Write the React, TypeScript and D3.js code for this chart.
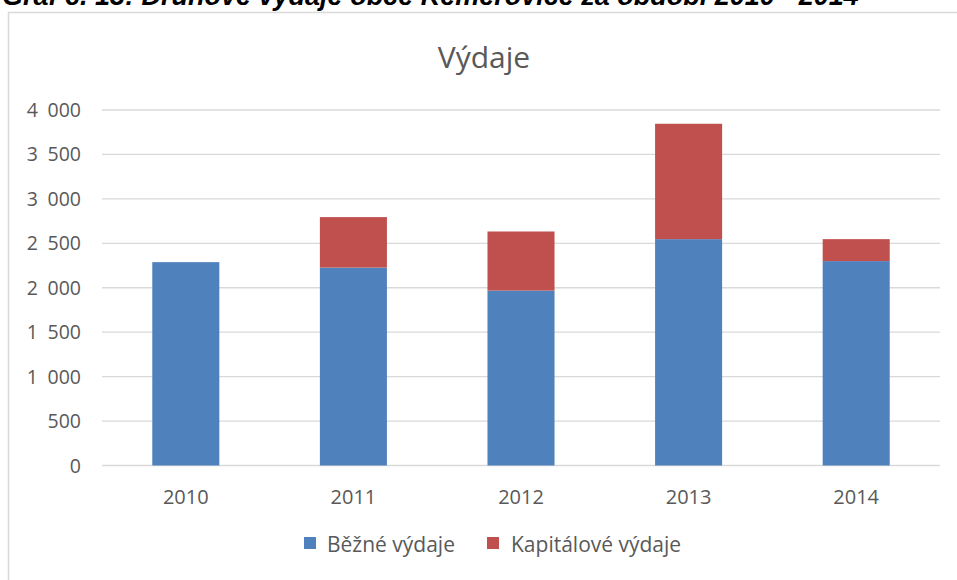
import React from "react";
import * as d3 from "d3";

const years = ["2010", "2011", "2012", "2013", "2014"];
const bezne = [2288, 2227, 1968, 2547, 2300];
const kapitalove = [0, 568, 665, 1298, 247];
const yTicks = [0, 500, 1000, 1500, 2000, 2500, 3000, 3500, 4000];
const seriesNames = ["Běžné výdaje", "Kapitálové výdaje"];
const seriesColors = ["#4F81BD", "#C0504D"];
const caption = "Graf č. 13: Druhové výdaje obce Kemerovice za období 2010 - 2014";
const chartTitle = "Výdaje";

const W = 957;
const H = 580;
const plotLeft = 102;
const plotRight = 940;
const yTop = 110;
const yBottom = 465.5;

export default function App() {
  const x = d3.scaleBand<string>().domain(years).range([plotLeft, plotRight]).padding(0);
  const y = d3.scaleLinear().domain([0, 4000]).range([yBottom, yTop]);
  const barW = x.bandwidth() * 0.4;

  const rows = years.map((yr, i) => ({ year: yr, bezne: bezne[i], kapitalove: kapitalove[i] }));
  const stacked = d3.stack<any>().keys(["bezne", "kapitalove"])(rows);

  const loc = d3.formatLocale({ decimal: ",", thousands: "\u2002", grouping: [3], currency: ["", " Kč"] });
  const fmt = loc.format(",d");

  const font = "'Open Sans', sans-serif";
  const textColor = "#595959";

  return (
    <svg width={W} height={H} style={{ position: "absolute", left: 0, top: 0, background: "#fff" }}>
      <rect x={0} y={0} width={W} height={H} fill="#fff" />
      <text x={2} y={5} fontFamily="'Liberation Sans', Arial, sans-serif" fontWeight="bold" fontStyle="italic" fontSize={27} fill="#000">
        {caption}
      </text>
      <rect x={8.5} y={12.5} width={1000} height={1000} fill="#fff" stroke="#d9d9d9" strokeWidth={1.5} />
      <text x={484} y={68} textAnchor="middle" fontFamily={font} fontSize={30} fill={textColor}>
        {chartTitle}
      </text>
      {yTicks.map((t) => (
        <g key={t}>
          <line x1={plotLeft} x2={plotRight} y1={y(t)} y2={y(t)} stroke="#d9d9d9" strokeWidth={1.3} />
          <text x={81} y={y(t)} dy="0.36em" textAnchor="end" fontFamily={font} fontSize={19.5} fill={textColor}>
            {fmt(t)}
          </text>
        </g>
      ))}
      {stacked.map((s, si) => (
        <g key={si} fill={seriesColors[si]}>
          {s.map((d, i) => {
            const h = y(d[0]) - y(d[1]);
            if (h <= 0) return null;
            return (
              <rect
                key={i}
                x={(x(years[i]) as number) + (x.bandwidth() - barW) / 2}
                y={y(d[1])}
                width={barW}
                height={h}
              />
            );
          })}
        </g>
      ))}
      {years.map((yr) => (
        <text key={yr} x={(x(yr) as number) + x.bandwidth() / 2} y={504} textAnchor="middle" fontFamily={font} fontSize={20} fill={textColor}>
          {yr}
        </text>
      ))}
      <g>
        <rect x={304} y={537} width={12} height={12} fill={seriesColors[0]} />
        <text x={327} y={549} dy="0.15em" fontFamily={font} fontSize={21} fill={textColor}>
          {seriesNames[0]}
        </text>
        <rect x={487} y={537} width={12} height={12} fill={seriesColors[1]} />
        <text x={511} y={549} dy="0.15em" fontFamily={font} fontSize={21} fill={textColor}>
          {seriesNames[1]}
        </text>
      </g>
    </svg>
  );
}
